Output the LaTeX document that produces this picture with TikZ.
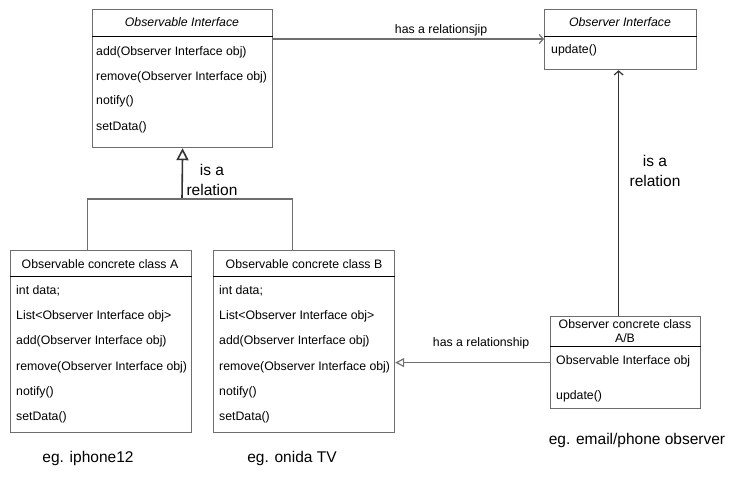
\documentclass[tikz,border=0pt]{standalone}
\usepackage{fontspec}
\setmainfont{Liberation Sans}
\usetikzlibrary{positioning}
\usetikzlibrary{arrows.meta}
\definecolor{linegray}{RGB}{110,110,110}

\begin{document}
\begin{tikzpicture}[x=1pt,y=-1pt,
    umlbox/.style={draw=linegray, line width=1.2pt, anchor=north west, inner sep=0pt},
    headline/.style={draw=black, line width=0.8pt},
    boxtitle/.style={font=\fontsize{12.3}{14}\selectfont, inner sep=0pt, align=center},
    member/.style={font=\fontsize{12.3}{14}\selectfont, anchor=west, inner sep=0pt},
    note/.style={font=\fontsize{15.5}{20}\selectfont, align=center, inner sep=0pt},
    rel/.style={draw=linegray, line width=1.2pt},
    opentip/.style={-{Straight Barb[length=4pt,width=9pt]}},
    hollowtip/.style={-{Triangle[open,length=#1,width=#1,fill=white]}}]

    \useasboundingbox (0,0) rectangle (749,483);

    % Observable Interface
    \node[umlbox, minimum width=180pt, minimum height=138pt] (obsif) at (92,9) {};
    \draw[headline] ([yshift=-27pt]obsif.north west) -- ([yshift=-27pt]obsif.north east);
    \node[boxtitle, font=\fontsize{12.3}{14}\selectfont\itshape] (obsiftitle) at (182,22) {Observable Interface};
    \node[member] (obsifadd) at (96,52) {add(Observer Interface obj)};
    \node[member] (obsifremove) at (96,77) {remove(Observer Interface obj)};
    \node[member] (obsifnotify) at (96,101) {notify()};
    \node[member] (obsifset) at (96,127) {setData()};

    % Observer Interface
    \node[umlbox, minimum width=152pt, minimum height=60pt] (obsvif) at (544,9) {};
    \draw[headline] ([yshift=-27pt]obsvif.north west) -- ([yshift=-27pt]obsvif.north east);
    \node[boxtitle, font=\fontsize{12.3}{14}\selectfont\itshape] (obsviftitle) at (620,22) {Observer Interface};
    \node[member] (obsvifupdate) at (551,50) {update()};

    % Observable concrete classes
    \foreach \bx/\bn/\bc in {10/A/100, 213/B/304} {
        \node[umlbox, minimum width=181pt, minimum height=182pt] (cls\bn) at (\bx,250) {};
        \draw[headline] ([yshift=-26pt]cls\bn.north west) -- ([yshift=-26pt]cls\bn.north east);
        \node[boxtitle] (cls\bn title) at (\bc,264) {Observable concrete class \bn};
        \node[member] (cls\bn data) at (\bx+6,291) {int data;};
        \node[member] (cls\bn list) at (\bx+6,316) {List<Observer Interface obj>};
        \node[member] (cls\bn add) at (\bx+6,341) {add(Observer Interface obj)};
        \node[member] (cls\bn remove) at (\bx+6,367) {remove(Observer Interface obj)};
        \node[member] (cls\bn notify) at (\bx+6,392) {notify()};
        \node[member] (cls\bn set) at (\bx+6,417) {setData()};
    }

    % Observer concrete class
    \node[umlbox, minimum width=150pt, minimum height=92pt] (obscon) at (550,316) {};
    \draw[headline] ([yshift=-30pt]obscon.north west) -- ([yshift=-30pt]obscon.north east);
    \node[boxtitle, font=\fontsize{12.3}{13.5}\selectfont] (obscontitle) at (625,331) {Observer concrete class\\A/B};
    \node[member] (obsconobj) at (556,361) {Observable Interface obj};
    \node[member] (obsconupdate) at (556,396) {update()};

    % Examples
    \node[note] (egA) at (88,458) {eg. iphone12};
    \node[note] (egB) at (292,458) {eg. onida TV};
    \node[note] (egC) at (637,440) {eg. email/phone observer};

    % Relations
    \coordinate (joint) at (182,199);
    \draw[rel, line width=1.6pt, draw=black!80, hollowtip=12pt] (joint) -- (obsif.south);
    \draw[rel] ([xshift=-14pt]clsA.north) |- (joint) -| ([xshift=-12pt]clsB.north);
    \node[note] (isaleft) at (212,180) {is a\\relation};

    \draw[rel, opentip] ([yshift=-30pt]obsif.north east) -- ([yshift=-30pt]obsvif.north west)
        node[pos=0.62, above=2pt, font=\fontsize{12.3}{14}\selectfont, inner sep=0pt] (hasrel) {has a relationsjip};

    \draw[rel, draw=black!80, opentip] ([xshift=-7pt]obscon.north) -- ([xshift=-7pt]obscon.north |- obsvif.south);
    \node[note] (isaright) at (655,171) {is a\\relation};

    \draw[rel, hollowtip=9pt] (obscon.west) -- (obscon.west -| clsB.east)
        node[pos=0.445, above=13pt, font=\fontsize{12.3}{14}\selectfont, inner sep=0pt] (hasrelB) {has a relationship};
\end{tikzpicture}
\end{document}
